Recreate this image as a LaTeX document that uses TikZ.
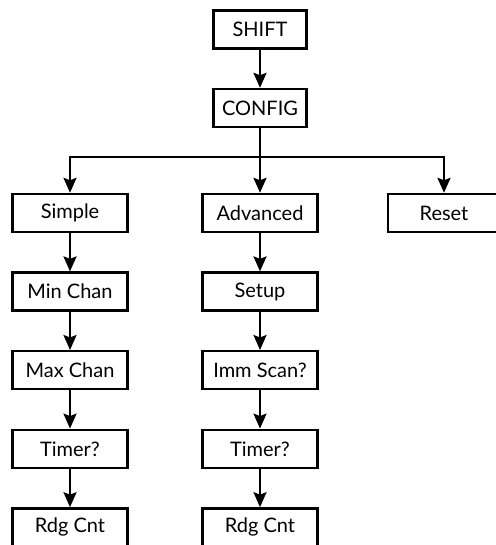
\documentclass[tikz,border=0pt]{standalone}
\usepackage{fontspec}
\setmainfont{Lato}
\usepackage{tikz}
\usetikzlibrary{arrows.meta, positioning}

\tikzset{
  menubox/.style={draw, line width=2.4pt, minimum width=115pt, minimum height=38pt, inner sep=0pt,
    font=\fontsize{20}{24}\selectfont},
  topbox/.style={menubox, minimum width=93pt},
  flow/.style={line width=2.4pt, -{Stealth[length=15pt, width=13pt, inset=2.5pt]}}
}

\begin{document}
\begin{tikzpicture}[x=1pt, y=1pt, node distance=38.2pt]
  \useasboundingbox (0,0) rectangle (495,-545);

  % top of the menu
  \node[topbox] (shift) at (260,-29.5) {SHIFT};
  \node[topbox] (config) at (260,-108) {CONFIG};
  \coordinate (split) at (260,-157);

  % the three branches
  \node[menubox] (simple) at (70,-213) {Simple};
  \node[menubox] (advanced) at (260,-213) {Advanced};
  \node[menubox, minimum width=112pt] (reset) at (444,-213) {Reset};

  \node[menubox, below=of simple] (minchan) {Min Chan};
  \node[menubox, below=of minchan] (maxchan) {Max Chan};
  \node[menubox, below=of maxchan] (timera) {Timer?};
  \node[menubox, below=of timera] (rdgcnta) {Rdg Cnt};

  \node[menubox, below=of advanced] (setup) {Setup};
  \node[menubox, below=of setup] (immscan) {Imm Scan?};
  \node[menubox, below=of immscan] (timerb) {Timer?};
  \node[menubox, below=of timerb] (rdgcntb) {Rdg Cnt};

  \draw[flow] (shift) -- (config);
  \draw[line width=2.4pt] (config) -- (split);
  \draw[flow] (split) -| (simple);
  \draw[flow] (split) -- (advanced);
  \draw[flow] (split) -| (reset);

  \draw[flow] (simple) -- (minchan);
  \draw[flow] (minchan) -- (maxchan);
  \draw[flow] (maxchan) -- (timera);
  \draw[flow] (timera) -- (rdgcnta);

  \draw[flow] (advanced) -- (setup);
  \draw[flow] (setup) -- (immscan);
  \draw[flow] (immscan) -- (timerb);
  \draw[flow] (timerb) -- (rdgcntb);
\end{tikzpicture}
\end{document}
